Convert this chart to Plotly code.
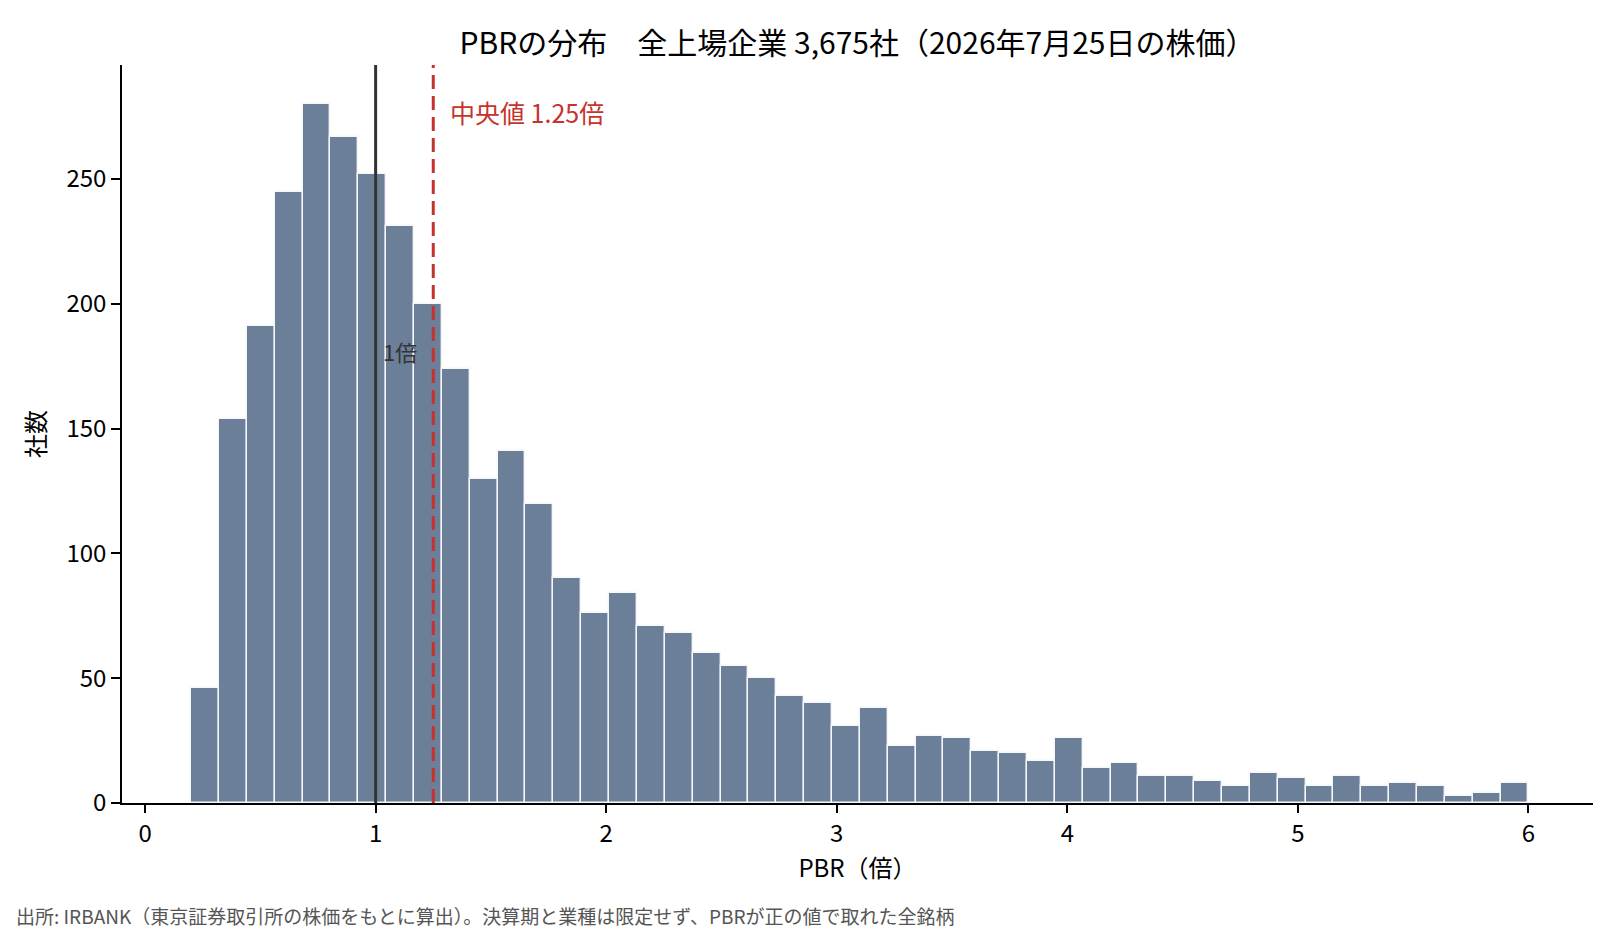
import numpy as np
import plotly.graph_objects as go

# PBR histogram counts, bins of equal width from 0.2 to 6.0
bin_lo, bin_hi = 0.2, 6.0
counts = [46, 154, 191, 245, 280, 267, 252, 231, 200, 174, 130, 141,
          120, 90, 76, 84, 71, 68, 60, 55, 50, 43, 40, 31,
          38, 23, 27, 26, 21, 20, 17, 26, 14, 16, 11, 11,
          9, 7, 12, 10, 7, 11, 7, 8, 7, 3, 4, 8]
median_pbr = 1.25
ref_pbr = 1.0
x_ticks = [0, 1, 2, 3, 4, 5, 6]
y_ticks = [0, 50, 100, 150, 200, 250]

edges = np.linspace(bin_lo, bin_hi, len(counts) + 1)
centers = (edges[:-1] + edges[1:]) / 2
width = edges[1] - edges[0]

FONT = "Noto Sans CJK JP"
ymax = 295.7
L, R, T, B = 114, 35, 57, 141
plot_w = 1620 - L - R
plot_h = 936 - T - B

fig = go.Figure()
fig.add_trace(go.Bar(
    x=centers, y=counts, width=width,
    marker=dict(color="#6b7f99", line=dict(color="#f4f6f9", width=1.4)),
    hoverinfo="skip", showlegend=False,
))

# 1倍 line and median line
fig.add_shape(type="line", x0=ref_pbr, x1=ref_pbr, y0=0, y1=ymax,
              xref="x", yref="y", line=dict(color="#333333", width=3))
fig.add_shape(type="line", x0=median_pbr, x1=median_pbr, y0=0, y1=ymax,
              xref="x", yref="y", line=dict(color="#c6332c", width=3, dash="14px,7px"))

fig.add_annotation(x=ref_pbr + 0.022, y=181, text="1倍", showarrow=False,
                   xanchor="left", yanchor="middle",
                   font=dict(family=FONT, size=22, color="#333333"))
fig.add_annotation(x=median_pbr + 0.065, y=277, text=f"中央値 {median_pbr:.2f}倍", showarrow=False,
                   xanchor="left", yanchor="middle",
                   font=dict(family=FONT, size=25, color="#c6332c"))

# source note under the chart
fig.add_annotation(x=(6 - L) / plot_w, y=-113 / plot_h, xref="paper", yref="paper",
                   text="出所: IRBANK（東京証券取引所の株価をもとに算出）。決算期と業種は限定せず、PBRが正の値で取れた全銘柄",
                   showarrow=False, xanchor="left", yanchor="middle",
                   font=dict(family=FONT, size=19, color="#555555"))

fig.update_layout(
    width=1620, height=936,
    margin=dict(l=L, r=R, t=T, b=B),
    paper_bgcolor="white", plot_bgcolor="white",
    font=dict(family=FONT, size=24, color="black"),
    bargap=0,
    title=dict(text="PBRの分布　全上場企業 3,675社（2026年7月25日の株価）",
               x=(L + plot_w / 2) / 1620, xanchor="center", y=1 - 35 / 936, yanchor="middle",
               yref="container", font=dict(family=FONT, size=30, color="black")),
    xaxis=dict(range=[-0.1, 6.28], tickvals=x_ticks, ticks="outside", ticklen=8,
               tickwidth=1.6, tickcolor="black", showline=True, linecolor="black",
               linewidth=1.6, showgrid=False, zeroline=False,
               title=dict(text="PBR（倍）", standoff=10, font=dict(size=24))),
    yaxis=dict(range=[0, ymax], tickvals=y_ticks, ticks="outside", ticklen=9,
               tickwidth=1.6, tickcolor="black", showline=True, linecolor="black",
               linewidth=1.6, showgrid=False, zeroline=False,
               title=dict(text="社数", standoff=14, font=dict(size=24))),
)

fig.write_html("out.html")
